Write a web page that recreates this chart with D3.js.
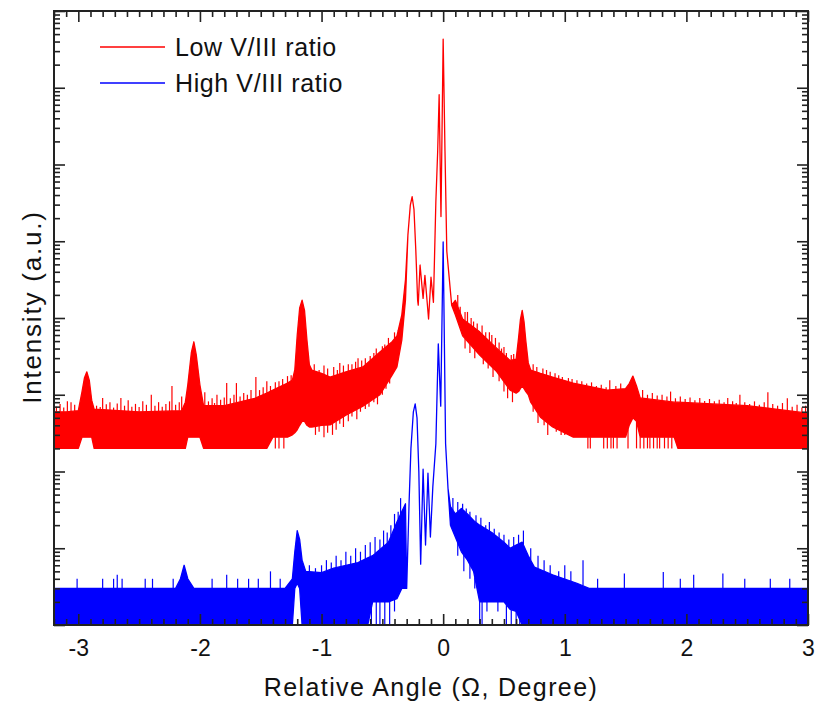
<!DOCTYPE html>
<html>
<head>
<meta charset="utf-8">
<script src="https://cdn.jsdelivr.net/npm/d3@7"></script>
<style>
  body { margin: 0; background: #fff; }
  svg { display: block; }
  text { font-family: "Liberation Sans", Arial, sans-serif; fill: #111; }
</style>
</head>
<body>
<div id="chart"></div>
<script>
// ---- data (angle in degrees, intensity in a.u.) ----
// Low V/III ratio (red): envelope of the noisy trace
const redAngle  = [-3.20, -3.10, -3.00, -2.97, -2.95, -2.93, -2.91, -2.89, -2.87, -2.50, -2.15, -2.12, -2.10, -2.07, -2.05, -2.03, -2.00, -1.97, -1.80, -1.55, -1.45, -1.40, -1.28, -1.24, -1.22, -1.20, -1.18, -1.16, -1.14, -1.12, -1.10, -1.08, -1.00, -0.93, -0.80, -0.66, -0.52, -0.42, -0.38, -0.34, -0.31, -0.29, -0.27, -0.255, -0.24, -0.225, -0.21, -0.205, -0.19, -0.165, -0.15, -0.12, -0.10, -0.08, -0.06, -0.045, -0.033, -0.018, 0.0, 0.015, 0.03, 0.07, 0.10, 0.16, 0.30, 0.44, 0.55, 0.60, 0.62, 0.635, 0.65, 0.665, 0.68, 0.70, 0.72, 0.80, 0.90, 1.07, 1.35, 1.50, 1.53, 1.56, 1.59, 1.62, 1.90, 1.93, 2.50, 3.00];
const redTop    = [600, 600, 620, 1090, 1650, 1990, 1550, 850, 650, 600, 620, 800, 1340, 3600, 4900, 3300, 1340, 720, 720, 900, 1050, 1150, 1420, 1550, 2100, 6000, 13500, 17100, 12600, 5150, 2450, 2100, 1900, 1700, 1990, 2300, 3600, 4900, 5850, 11000, 31500, 1.2e5, 2.96e5, 3.8e5, 2.6e5, 7.7e4, 1.7e4, 1.47e4, 4.9e4, 1.8e4, 3.6e4, 9700, 3.4e4, 1.6e4, 3.3e5, 1.5e6, 8.1e6, 2.1e5, 4.3e7, 1.5e6, 7.4e4, 1.47e4, 1.7e4, 9700, 6600, 4050, 2800, 2900, 5500, 9500, 12600, 9000, 5000, 2600, 2100, 1900, 1700, 1420, 1150, 1200, 1400, 1750, 1300, 910, 800, 800, 720, 575];
const redBottom = [200, 200, 200, 280, 280, 280, 280, 280, 200, 200, 200, 200, 280, 280, 280, 280, 280, 200, 200, 200, 200, 280, 280, 300, 320, 350, 400, 450, 450, 400, 380, 380, 400, 405, 540, 710, 1000, 1800, 2300, 5150, 17000, 1.2e5, 2.96e5, 3.8e5, 2.6e5, 7.7e4, 1.7e4, 1.47e4, 4.9e4, 1.8e4, 3.6e4, 9700, 3.4e4, 1.6e4, 3.3e5, 1.5e6, 8.1e6, 2.1e5, 4.3e7, 1.5e6, 7.4e4, 1.47e4, 1.1e4, 5850, 3300, 2000, 1150, 1050, 1100, 1200, 1300, 1200, 1100, 1000, 800, 510, 380, 280, 280, 280, 400, 500, 450, 280, 280, 200, 200, 200];
// single counts sticking out above the band (spikes) and below it (dips)
const redSpikeAngle = [-3.18, -3.15, -3.12, -3.09, -3.06, -3.03, -2.85, -2.82, -2.80, -2.77, -2.74, -2.71, -2.68, -2.65, -2.62, -2.59, -2.56, -2.53, -2.50, -2.47, -2.44, -2.40, -2.37, -2.34, -2.31, -2.28, -2.25, -2.23, -2.20, -2.17, -2.15, -1.96, -1.93, -1.90, -1.88, -1.86, -1.83, -1.80, -1.78, -1.75, -1.72, -1.70, -1.67, -1.64, -1.61, -1.58, -1.54, -1.51, -1.48, -1.45, -1.42, -1.38, -1.35, -1.32, -1.28, -1.25, -1.06, -1.02, -0.98, -0.95, -0.90, -0.87, -0.85, -0.82, -0.78, -0.75, -0.72, -0.70, -0.67, -0.64, -0.60, -0.57, -0.55, -0.50, -0.48, -0.45, -0.40, -0.37, 0.12, 0.14, 0.18, 0.20, 0.23, 0.25, 0.28, 0.32, 0.35, 0.38, 0.40, 0.43, 0.46, 0.48, 0.50, 0.52, 0.56, 0.58, 0.74, 0.77, 0.82, 0.85, 0.88, 0.92, 0.95, 0.98, 1.03, 1.06, 1.10, 1.14, 1.18, 1.22, 1.26, 1.30, 1.34, 1.37, 1.42, 1.46, 1.64, 1.68, 1.72, 1.76, 1.80, 1.84, 1.87, 1.91, 1.95, 1.99, 2.03, 2.07, 2.11, 2.15, 2.19, 2.23, 2.27, 2.31, 2.34, 2.38, 2.41, 2.44, 2.48, 2.52, 2.56, 2.60, 2.64, 2.67, 2.71, 2.75, 2.79, 2.83, 2.87, 2.91, 2.95, 2.98];
const redSpikeValue = [700, 760, 680, 820, 800, 740, 720, 690, 910, 750, 800, 680, 770, 910, 720, 850, 700, 760, 690, 820, 740, 1000, 720, 800, 700, 760, 820, 1300, 740, 800, 950, 1080, 820, 900, 780, 1000, 860, 920, 1420, 900, 1000, 1420, 950, 1050, 1000, 1150, 1700, 1150, 1250, 1500, 1300, 1450, 1500, 1600, 1750, 1800, 2500, 2100, 2400, 2200, 2300, 2100, 2600, 2400, 2500, 2500, 2700, 3000, 2800, 3000, 3200, 3500, 4000, 4300, 4500, 5500, 6500, 7000, 2.0e4, 1.4e4, 1.2e4, 1.2e4, 1.0e4, 9000, 8500, 8000, 6500, 6500, 6000, 5500, 4800, 4000, 4200, 3500, 3300, 3400, 2500, 2300, 2200, 2100, 1990, 1900, 1800, 1700, 1650, 1600, 1550, 1500, 1400, 1450, 1300, 1350, 1250, 1550, 1300, 1400, 1150, 1000, 1050, 980, 1000, 950, 1100, 900, 950, 880, 920, 850, 910, 830, 880, 820, 860, 800, 910, 820, 780, 1000, 800, 760, 820, 740, 800, 1080, 760, 720, 780, 900, 700, 740, 680, 720];
const redDipAngle = [-1.38, -1.35, -1.31, -1.05, -1.02, -0.98, -0.95, -0.91, -0.88, -0.85, -0.82, -0.78, -0.75, -0.71, -0.68, -0.64, -0.61, -0.57, -0.54, -0.50, -0.47, -0.44, 0.18, 0.22, 0.26, 0.33, 0.37, 0.41, 0.46, 0.50, 0.53, 0.57, 0.74, 0.78, 0.83, 0.86, 0.93, 0.97, 1.00, 1.04, 1.19, 1.21, 1.32, 1.35, 1.38, 1.40, 1.43, 1.52, 1.59, 1.62, 1.65, 1.68, 1.70, 1.73, 1.76, 1.78, 1.82, 1.85, 1.88];
const redDipValue = [200, 200, 200, 300, 330, 280, 320, 300, 350, 420, 380, 450, 520, 480, 600, 650, 700, 800, 750, 1000, 1200, 1400, 4000, 3500, 3000, 2500, 2200, 1700, 1500, 1100, 900, 800, 600, 430, 400, 300, 330, 300, 300, 300, 200, 200, 200, 200, 200, 200, 200, 200, 200, 200, 200, 200, 200, 200, 200, 200, 200, 200, 200];

// High V/III ratio (blue)
const blueAngle  = [-3.20, -2.20, -2.16, -2.13, -2.10, -2.05, -1.30, -1.24, -1.22, -1.20, -1.18, -1.16, -1.13, -1.00, -0.90, -0.70, -0.62, -0.58, -0.45, -0.38, -0.34, -0.31, -0.30, -0.28, -0.265, -0.245, -0.23, -0.215, -0.20, -0.185, -0.165, -0.145, -0.125, -0.105, -0.085, -0.06, -0.04, -0.02, 0.0, 0.02, 0.04, 0.06, 0.10, 0.15, 0.20, 0.25, 0.30, 0.40, 0.50, 0.55, 0.60, 0.65, 0.70, 0.75, 0.90, 1.10, 1.20, 3.00];
const blueTop    = [3, 3, 4, 6, 4, 3, 3, 4, 9, 17, 13, 7, 5, 4.8, 5.5, 6.5, 7.5, 8, 12, 22, 30, 38, 3, 40, 200, 600, 760, 500, 100, 6.2, 107, 11, 95, 14, 63, 230, 4600, 710, 9.8e4, 230, 60, 35, 28, 33, 28, 23, 20, 16, 12, 10, 11, 12, 8, 5.7, 4.5, 3.5, 3, 3];
const blueBottom = [1, 1, 1, 1, 1, 1, 1, 1, 3, 3.5, 3, 1, 1, 1, 1, 1, 1, 2, 2, 2.2, 3, 3, 3, 40, 200, 600, 760, 500, 100, 6.2, 107, 11, 95, 14, 63, 230, 4600, 710, 9.8e4, 230, 60, 20, 14, 9, 7, 5, 2, 2, 2, 1.6, 1.5, 1, 1, 1, 1, 1, 1, 1];
const blueSpikeAngle = [-3.01, -2.80, -2.71, -2.68, -2.64, -2.45, -2.39, -2.22, -1.90, -1.78, -1.69, -1.60, -1.52, -1.42, -1.34, -1.10, -1.05, -1.00, -0.96, -0.92, -0.88, -0.84, -0.80, -0.76, -0.72, -0.68, -0.64, -0.60, -0.56, -0.52, -0.49, -0.46, -0.43, -0.40, -0.37, -0.35, 0.08, 0.12, 0.16, 0.19, 0.22, 0.27, 0.31, 0.35, 0.38, 0.42, 0.46, 0.50, 0.54, 0.58, 0.62, 0.66, 0.72, 0.78, 0.83, 0.88, 0.95, 1.00, 1.05, 1.15, 1.27, 1.49, 1.81, 1.95, 2.06, 2.30, 2.48, 2.69, 2.85];
const blueSpikeValue = [4, 4, 4, 4.5, 4, 4, 4, 4, 4, 4.5, 4, 4, 4, 5, 4, 6, 5.5, 6, 7, 6.5, 8, 7, 9, 8, 10, 9, 11, 12, 14, 13, 17, 16, 20, 28, 30, 45, 45, 40, 38, 33, 30, 27, 25, 20, 22, 18, 16, 15, 13, 14, 15, 17, 10, 8, 7, 6, 5, 6, 5, 7, 4, 4.7, 4.9, 4, 4.5, 4.7, 4, 4, 4];
const blueDipAngle = [-0.62, -0.59, -0.55, -0.52, -0.48, -0.44, -0.40, 0.12, 0.17, 0.22, 0.26, 0.30, 0.32, 0.36, 0.45, 0.52, 0.56, 0.60, 0.63];
const blueDipValue = [1, 1, 1, 1, 1, 1, 1.5, 8, 5, 4, 3, 1, 1, 1.5, 1.5, 1, 1, 1, 1];

const xMajor = [-3, -2, -1, 0, 1, 2, 3];
const legendLabels = ["Low V/III ratio", "High V/III ratio"];
const colors = ["#ff0000", "#0000ff"];

// ---- chart ----
const width = 816, height = 703;
const margin = {top: 11, right: 8, bottom: 78, left: 54};
const x0 = margin.left, x1 = width - margin.right;
const y0 = height - margin.bottom, y1 = margin.top;

const svg = d3.select('#chart').append('svg')
  .attr('width', width)
  .attr('height', height);

const x = d3.scaleLinear().domain([-3.2, 3]).range([x0, x1]);
const y = d3.scaleLog().domain([1, 1e8]).range([y0, y1]);

svg.append('clipPath').attr('id', 'plot-clip')
  .append('rect').attr('x', x0).attr('y', y1).attr('width', x1 - x0).attr('height', y0 - y1);

const plot = svg.append('g').attr('clip-path', 'url(#plot-clip)');

function drawSeries(angle, top, bottom, spikeA, spikeV, dipA, dipV, color) {
  const rows = angle.map((a, i) => ({a: a, top: top[i], bottom: bottom[i]}));
  const area = d3.area()
    .x(d => x(d.a))
    .y0(d => y(d.bottom))
    .y1(d => y(d.top));
  plot.append('path')
    .datum(rows)
    .attr('d', area)
    .attr('fill', color)
    .attr('stroke', color)
    .attr('stroke-width', 1.3)
    .attr('stroke-linejoin', 'round');

  // band edge under a given angle (log interpolation), foot of spikes and dips
  const bisect = d3.bisector(d => d.a).left;
  function level(a, key) {
    const i = Math.max(1, Math.min(rows.length - 1, bisect(rows, a)));
    const p = rows[i - 1], q = rows[i];
    const t = (a - p.a) / (q.a - p.a);
    return Math.exp(Math.log(p[key]) + t * (Math.log(q[key]) - Math.log(p[key])));
  }

  plot.append('g').selectAll('line')
    .data(spikeA.map((a, i) => ({a: a, v: spikeV[i]})))
    .join('line')
    .attr('x1', d => x(d.a)).attr('x2', d => x(d.a))
    .attr('y1', d => y(level(d.a, 'top')))
    .attr('y2', d => y(d.v))
    .attr('stroke', color).attr('stroke-width', 1.2);

  plot.append('g').selectAll('line')
    .data(dipA.map((a, i) => ({a: a, v: dipV[i]})))
    .join('line')
    .attr('x1', d => x(d.a)).attr('x2', d => x(d.a))
    .attr('y1', d => y(level(d.a, 'bottom')))
    .attr('y2', d => y(d.v))
    .attr('stroke', color).attr('stroke-width', 1.2);
}

drawSeries(redAngle, redTop, redBottom, redSpikeAngle, redSpikeValue, redDipAngle, redDipValue, colors[0]);
drawSeries(blueAngle, blueTop, blueBottom, blueSpikeAngle, blueSpikeValue, blueDipAngle, blueDipValue, colors[1]);

// ---- axes: ticks point inward on all four sides ----
const xMinor = d3.range(-32, 31).map(i => i / 10).filter(v => Math.abs(v - Math.round(v)) > 1e-6);
const yMajor = d3.range(0, 9).map(k => Math.pow(10, k));
const yMinor = [];
for (let k = 0; k < 8; k++) for (let m = 2; m <= 9; m++) yMinor.push(m * Math.pow(10, k));

function styleAxis(g) {
  g.select('.domain').remove();
  g.selectAll('.tick line').attr('stroke', '#222').attr('stroke-width', 1.6);
}

svg.append('g').attr('transform', `translate(0,${y0})`)
  .call(d3.axisBottom(x).tickValues(xMajor).tickSize(-11).tickPadding(15).tickFormat(d => String(d)))
  .call(styleAxis)
  .call(g => g.selectAll('text').attr('font-size', 23).attr('fill', '#111'));
svg.append('g').attr('transform', `translate(0,${y0})`)
  .call(d3.axisBottom(x).tickValues(xMinor).tickSize(-6).tickFormat(''))
  .call(styleAxis);
svg.append('g').attr('transform', `translate(0,${y1})`)
  .call(d3.axisTop(x).tickValues(xMajor).tickSize(-11).tickFormat(''))
  .call(styleAxis);
svg.append('g').attr('transform', `translate(0,${y1})`)
  .call(d3.axisTop(x).tickValues(xMinor).tickSize(-6).tickFormat(''))
  .call(styleAxis);

svg.append('g').attr('transform', `translate(${x0},0)`)
  .call(d3.axisLeft(y).tickValues(yMajor).tickSize(-11).tickFormat(''))
  .call(styleAxis);
svg.append('g').attr('transform', `translate(${x0},0)`)
  .call(d3.axisLeft(y).tickValues(yMinor).tickSize(-6).tickFormat(''))
  .call(styleAxis);
svg.append('g').attr('transform', `translate(${x1},0)`)
  .call(d3.axisRight(y).tickValues(yMajor).tickSize(-11).tickFormat(''))
  .call(styleAxis);
svg.append('g').attr('transform', `translate(${x1},0)`)
  .call(d3.axisRight(y).tickValues(yMinor).tickSize(-6).tickFormat(''))
  .call(styleAxis);

svg.append('rect')
  .attr('x', x0).attr('y', y1)
  .attr('width', x1 - x0).attr('height', y0 - y1)
  .attr('fill', 'none').attr('stroke', '#222').attr('stroke-width', 2);

// axis titles
svg.append('text')
  .attr('x', 431).attr('y', 696)
  .attr('text-anchor', 'middle').attr('font-size', 25)
  .attr('letter-spacing', 1.4)
  .text('Relative Angle (\u03A9, Degree)');
svg.append('text')
  .attr('transform', `translate(41,307)rotate(-90)`)
  .attr('text-anchor', 'middle').attr('font-size', 26)
  .attr('letter-spacing', 1.8)
  .text('Intensity (a.u.)');

// legend
const legend = svg.append('g').selectAll('g')
  .data(legendLabels)
  .join('g')
  .attr('transform', (d, i) => `translate(100,${47 + i * 36})`);
legend.append('line')
  .attr('x1', 0).attr('x2', 65)
  .attr('stroke', (d, i) => colors[i]).attr('stroke-width', 1.6);
legend.append('text')
  .attr('x', 75).attr('dy', '0.35em')
  .attr('font-size', 25)
  .attr('letter-spacing', 0.6)
  .text(d => d);
</script>
</body>
</html>
